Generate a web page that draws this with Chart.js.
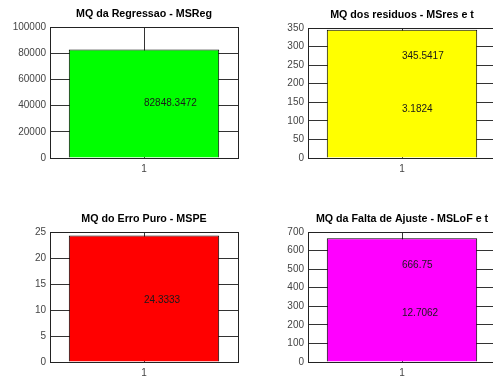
<!DOCTYPE html>
<html>
<head>
<meta charset="utf-8">
<title>Quadrados medios</title>
<script src="https://cdn.jsdelivr.net/npm/chart.js@4"></script>
<style>
    html, body { margin: 0; padding: 0; background: #fff; width: 493px; height: 380px; overflow: hidden; }
    canvas { position: absolute; }
</style>
</head>
<body>
<canvas id="chartReg" width="250" height="190" style="left:0px;top:0px"></canvas>
<canvas id="chartRes" width="250" height="190" style="left:258px;top:0px"></canvas>
<canvas id="chartPE" width="250" height="190" style="left:0px;top:190px"></canvas>
<canvas id="chartLoF" width="250" height="190" style="left:258px;top:190px"></canvas>
<script>
// Data
const categories = ['1'];

const titles = [
    'MQ da Regressao - MSReg',
    'MQ dos residuos - MSres e t',
    'MQ do Erro Puro - MSPE',
    'MQ da Falta de Ajuste - MSLoF e t'
];

const msReg = [82848.3472];
const msRes = [345.5417];
const msPE = [24.3333];
const msLoF = [666.75];

// text written inside the bars
const tRes = '3.1824';
const tLoF = '12.7062';

const yMax = [100000, 350, 25, 700];
const yStep = [20000, 50, 5, 100];

const barColors = ['#00ff00', '#ffff00', '#ff0000', '#ff00ff'];

const fontFamily = '"Liberation Sans", Arial, Helvetica, sans-serif';

// Box around the axes plus title and bar texts
const boxPlugin = {
    id: 'matlabBox',
    afterDraw(chart) {
        const ctx = chart.ctx;
        const area = chart.chartArea;
        const opts = chart.options.plugins.matlabBox;

        ctx.save();
        ctx.strokeStyle = '#222';
        ctx.lineWidth = 1;
        ctx.strokeRect(Math.round(area.left) + 0.5, Math.round(area.top) + 0.5,
            Math.round(area.right - area.left), Math.round(area.bottom - area.top));

        // title
        ctx.fillStyle = '#000';
        ctx.font = 'bold 10.7px ' + fontFamily;
        ctx.textAlign = 'center';
        ctx.textBaseline = 'middle';
        ctx.fillText(opts.title, (area.left + area.right) / 2, area.top - 13);

        // texts inside the bar
        const xScale = chart.scales.x;
        const yScale = chart.scales.y;
        const value = chart.data.datasets[0].data[0];
        ctx.font = '10px ' + fontFamily;
        ctx.fillStyle = '#1a1a1a';
        ctx.textAlign = 'left';
        opts.texts.forEach(item => {
            ctx.fillText(item.text, xScale.getPixelForValue(0), yScale.getPixelForValue(value * item.at));
        });
        ctx.restore();
    }
};

function makeChart(id, index, values, texts, padTop, xHeight) {
    const ctx = document.getElementById(id);
    if (!ctx) return;

    return new Chart(ctx, {
        type: 'bar',
        data: {
            labels: categories,
            datasets: [{
                data: values,
                backgroundColor: barColors[index],
                borderColor: '#000',
                borderWidth: 1,
                barPercentage: 1.0,
                categoryPercentage: 0.8
            }]
        },
        options: {
            responsive: false,
            animation: false,
            events: [],
            layout: {
                padding: { top: padTop, right: 12, left: 0, bottom: 0 }
            },
            plugins: {
                legend: { display: false },
                tooltip: { enabled: false },
                matlabBox: { title: titles[index], texts: texts }
            },
            scales: {
                x: {
                    grid: { offset: false, color: '#333', drawTicks: false },
                    border: { display: false },
                    ticks: {
                        padding: 5,
                        color: '#444',
                        font: { family: fontFamily, size: 10 }
                    },
                    afterFit: function(scale) { scale.height = xHeight; }
                },
                y: {
                    min: 0,
                    max: yMax[index],
                    grid: { color: '#333', drawTicks: false },
                    border: { display: false },
                    ticks: {
                        stepSize: yStep[index],
                        padding: 4,
                        color: '#444',
                        font: { family: fontFamily, size: 10 },
                        callback: function(value) {
                            return String(value);
                        }
                    },
                    afterFit: function(scale) { scale.width = 50; }
                }
            }
        },
        plugins: [boxPlugin]
    });
}

document.addEventListener('DOMContentLoaded', function() {
    makeChart('chartReg', 0, msReg, [{ text: String(msReg[0]), at: 0.5 }], 27, 32);
    makeChart('chartRes', 1, msRes, [
        { text: String(msRes[0]), at: 0.79 },
        { text: tRes, at: 0.38 }
    ], 28, 32);
    makeChart('chartPE', 2, msPE, [{ text: String(msPE[0]), at: 0.49 }], 42, 18);
    makeChart('chartLoF', 3, msLoF, [
        { text: String(msLoF[0]), at: 0.78 },
        { text: tLoF, at: 0.39 }
    ], 42, 18);
});
</script>
</body>
</html>
